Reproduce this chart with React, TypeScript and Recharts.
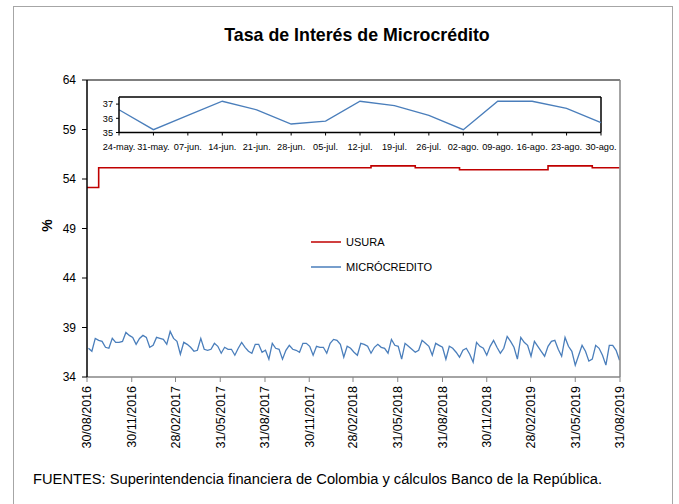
import { LineChart, Line, XAxis, YAxis, Legend, ReferenceLine } from "recharts";

const FONT = "'Liberation Sans', Arial, sans-serif";
const NARROW = "'Liberation Sans Narrow', 'Liberation Sans', Arial, sans-serif";

// eje X principal (fechas de corte)
const xTickLabels = [
  "30/08/2016", "30/11/2016", "28/02/2017", "31/05/2017", "31/08/2017",
  "30/11/2017", "28/02/2018", "31/05/2018", "31/08/2018", "30/11/2018",
  "28/02/2019", "31/05/2019", "31/08/2019",
];
const yTicks = [34, 39, 44, 49, 54, 59, 64];

// microcrédito, semanal desde el viernes 02/09/2016
const firstWeek = "02/09/2016";
const microcredito = [
  36.9, 36.6, 37.9, 37.7, 37.6, 37.0, 36.9, 37.9, 37.5, 37.5,
  37.6, 38.5, 38.2, 38.0, 37.3, 37.9, 38.2, 38.0, 37.0, 37.2,
  38.0, 37.9, 37.8, 37.3, 38.6, 37.9, 37.6, 36.3, 37.5, 37.3,
  37.0, 36.6, 36.7, 37.9, 36.8, 36.7, 36.8, 37.4, 37.1, 36.4,
  37.0, 36.8, 36.8, 36.2, 36.9, 37.5, 37.0, 36.6, 36.4, 37.3,
  37.3, 36.5,
  36.7, 35.8, 37.4, 36.9, 36.8, 35.8, 36.7, 37.2, 36.8, 36.7,
  36.5, 37.4, 37.4, 37.1, 36.2, 37.1, 37.0, 37.0, 36.4, 37.4,
  37.8, 37.7, 37.3, 36.0, 37.1, 36.9, 36.5, 36.2, 37.4, 37.3,
  37.1, 36.4, 37.0, 37.3, 37.0, 36.9, 36.4, 37.8, 37.2, 37.1,
  35.8, 37.4, 37.1, 36.8, 36.5, 36.7, 37.7, 37.4, 37.1, 36.2,
  37.4, 37.2, 37.0,
  35.8, 37.1, 36.9, 36.5, 36.0, 36.7, 36.9, 36.3, 35.5, 37.5,
  37.1, 36.9, 36.2, 37.1, 37.7, 37.0, 36.4, 36.9, 38.1, 37.6,
  37.0, 35.8, 38.0, 37.5, 37.2, 36.1, 37.6, 37.1, 36.6, 36.1,
  37.1, 37.6, 37.7, 36.8, 36.1, 38.0, 37.1,
  36.6, 35.2, 36.2, 37.2, 36.6, 35.6, 35.8, 37.2, 36.9, 36.2,
  35.2, 37.2, 37.2, 36.7, 35.7,
];

// tasa de usura: fechas de cambio
const usuraDates = [
  "30/08/2016", "23/09/2016", "06/04/2018", "06/07/2018",
  "05/10/2018", "05/04/2019", "05/07/2019", "30/08/2019",
];
const usura = [53.14, 55.14, 55.33, 55.14, 54.93, 55.33, 55.14, 55.14];

// recuadro: últimas 15 semanas
const insetLabels = [
  "24-may.", "31-may.", "07-jun.", "14-jun.", "21-jun.", "28-jun.", "05-jul.",
  "12-jul.", "19-jul.", "26-jul.", "02-ago.", "09-ago.", "16-ago.", "23-ago.", "30-ago.",
];
const insetTicks = [35, 36, 37];
const insetMax = 37.5;

const dayOf = (s: string) => {
  const [d, m, y] = s.split("/").map(Number);
  return (Date.UTC(y, m - 1, d) - Date.UTC(2016, 7, 30)) / 86400000;
};

const xTicks = xTickLabels.map(dayOf);
const start = dayOf(firstWeek);
const microData = microcredito.map((v, i) => ({ day: start + 7 * i, v }));
const usuraData = usura.map((v, i) => ({ day: dayOf(usuraDates[i]), v }));
const insetData = insetLabels.map((label, i) => ({
  label,
  v: microcredito[microcredito.length - insetLabels.length + i],
}));

const RED = "#c00000";
const BLUE = "#4a7ebb";
const GRAY = "#868686";

const DateTick = ({ x, y, payload }: any) => {
  const idx = xTicks.indexOf(payload.value);
  return (
    <text
      x={x}
      y={y + 1}
      transform={`rotate(-90, ${x}, ${y + 1})`}
      textAnchor="end"
      dy="0.35em"
      fontSize={12.5}
      fontFamily={FONT}
      fill="#000"
    >
      {idx >= 0 ? xTickLabels[idx] : ""}
    </text>
  );
};

const LegendBox = () => (
  <div style={{ fontFamily: FONT, fontSize: 11, color: "#000" }}>
    {[
      { name: "USURA", color: RED },
      { name: "MICRÓCREDITO", color: BLUE },
    ].map((it) => (
      <div key={it.name} style={{ display: "flex", alignItems: "center", height: 25 }}>
        <svg width={35} height={4}>
          <line x1={0} x2={30} y1={2} y2={2} stroke={it.color} strokeWidth={1.5} />
        </svg>
        <span>{it.name}</span>
      </div>
    ))}
  </div>
);

const tickText = { fontSize: 12, fontFamily: FONT, fill: "#000" };
const insetText = { fontSize: 9.2, fontFamily: NARROW, fill: "#000" };

export default function App() {
  return (
    <div
      style={{
        position: "absolute",
        left: 0,
        top: 0,
        width: 679,
        height: 504,
        overflow: "hidden",
        background: "#fff",
      }}
    >
      <div
        style={{
          position: "absolute",
          left: 13,
          top: 6,
          width: 658,
          height: 600,
          border: "1px solid #a6a6a6",
        }}
      />
      <div
        style={{
          position: "absolute",
          left: 37,
          top: 25,
          width: 640,
          textAlign: "center",
          fontFamily: FONT,
          fontWeight: "bold",
          fontSize: 17.8,
        }}
      >
        Tasa de Interés de Microcrédito
      </div>

      <div style={{ position: "absolute", left: 0, top: 0 }}>
        <LineChart width={679} height={504} margin={{ top: 80, right: 0, bottom: 0, left: 0 }}>
          <XAxis
            type="number"
            dataKey="day"
            domain={[0, 1096]}
            ticks={xTicks}
            interval={0}
            height={127}
            tickSize={5}
            tickMargin={3}
            tick={<DateTick />}
            axisLine={{ stroke: GRAY, strokeWidth: 1.5 }}
            tickLine={{ stroke: GRAY }}
            allowDataOverflow
          />
          <YAxis
            domain={[34, 64]}
            ticks={yTicks}
            interval={0}
            width={87}
            tickSize={5}
            tickMargin={6}
            tick={tickText}
            axisLine={{ stroke: "#000", strokeWidth: 1.5 }}
            tickLine={{ stroke: "#000" }}
            label={{
              value: "%",
              angle: -90,
              position: "center",
              dx: 4,
              dy: -3,
              style: { fontSize: 14, fontWeight: "bold", fontFamily: FONT, fill: "#000" },
            }}
          />
          <YAxis
            yAxisId="right"
            orientation="right"
            domain={[34, 64]}
            ticks={yTicks}
            interval={0}
            width={59}
            tickSize={5}
            tickMargin={6}
            tick={tickText}
            axisLine={{ stroke: GRAY, strokeWidth: 1.5 }}
            tickLine={{ stroke: GRAY }}
          />
          <ReferenceLine y={64} stroke="#000" strokeWidth={1.2} />
          <Line
            data={usuraData}
            dataKey="v"
            name="USURA"
            type="stepAfter"
            stroke={RED}
            strokeWidth={1.6}
            dot={false}
            isAnimationActive={false}
          />
          <Line
            data={microData}
            dataKey="v"
            name="MICRÓCREDITO"
            type="linear"
            stroke={BLUE}
            strokeWidth={1.3}
            dot={false}
            isAnimationActive={false}
          />
          <Legend
            layout="vertical"
            align="center"
            verticalAlign="middle"
            wrapperStyle={{ left: 311, top: 229, width: 160 }}
            content={<LegendBox />}
          />
        </LineChart>
      </div>

      <div style={{ position: "absolute", left: 70, top: 85 }}>
        <LineChart width={560} height={80} data={insetData} margin={{ top: 12, right: 29, bottom: 0, left: 0 }}>
          <XAxis
            dataKey="label"
            interval={0}
            height={32.5}
            tickSize={3}
            tickMargin={8}
            tick={insetText}
            axisLine={{ stroke: "#000", strokeWidth: 1.5 }}
            tickLine={{ stroke: "#000" }}
          />
          <YAxis
            domain={[35, insetMax]}
            ticks={insetTicks}
            interval={0}
            width={49}
            tickSize={3}
            tickMargin={3}
            tick={insetText}
            axisLine={{ stroke: "#000", strokeWidth: 1.5 }}
            tickLine={{ stroke: "#000" }}
          />
          <ReferenceLine y={insetMax} stroke="#000" strokeWidth={1.5} />
          <ReferenceLine x={insetLabels[insetLabels.length - 1]} stroke="#000" strokeWidth={1.5} />
          <Line
            dataKey="v"
            type="linear"
            stroke={BLUE}
            strokeWidth={1.3}
            dot={false}
            isAnimationActive={false}
          />
        </LineChart>
      </div>

      <div
        style={{
          position: "absolute",
          left: 33,
          top: 471,
          fontFamily: FONT,
          fontSize: 14.7,
          whiteSpace: "nowrap",
        }}
      >
        FUENTES: Superintendencia financiera de Colombia y cálculos Banco de la República.
      </div>
    </div>
  );
}
